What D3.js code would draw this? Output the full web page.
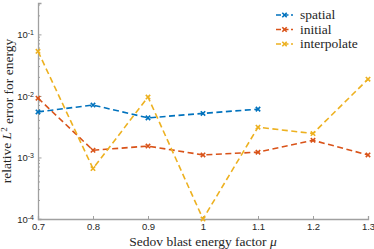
<!DOCTYPE html>
<html>
<head>
<meta charset="utf-8">
<script src="https://cdn.jsdelivr.net/npm/d3@7"></script>
<style>
  body { margin: 0; background: #fff; }
  svg { display: block; }
  .tick text { font-family: "Liberation Sans", Arial, sans-serif; font-size: 9.5px; fill: #262626; }
  .lab { font-family: "Liberation Serif", "DejaVu Serif", serif; font-size: 13.5px; fill: #262626; }
</style>
</head>
<body>
<div id="chart"></div>
<script>
var mu = [0.7, 0.8, 0.9, 1.0, 1.1, 1.2, 1.3];
var spatial = [5.5e-3, 7.1e-3, 4.4e-3, 5.2e-3, 6.1e-3];
var initial = [9.2e-3, 1.31e-3, 1.53e-3, 1.1e-3, 1.22e-3, 1.9e-3, 1.1e-3];
var interpolate = [5.3e-2, 6.6e-4, 9.6e-3, 1.0e-4, 3.1e-3, 2.45e-3, 1.87e-2];
var xTicks = [0.7, 0.8, 0.9, 1, 1.1, 1.2, 1.3];
var yTicks = [1e-4, 1e-3, 1e-2, 1e-1];

var series = [
  { name: "spatial", values: spatial, colour: "#0072BD" },
  { name: "initial", values: initial, colour: "#D95319" },
  { name: "interpolate", values: interpolate, colour: "#EDB120" }
];

var W = 374, H = 249,
  m = { top: 3, right: 6, bottom: 30, left: 38 },
  w = W - m.left - m.right,
  h = H - m.top - m.bottom;

var svg = d3.select("#chart").append("svg")
  .attr("width", W)
  .attr("height", H);

var g = svg.append("g")
  .attr("transform", "translate(" + m.left + "," + m.top + ")");

var x = d3.scaleLinear().domain([0.7, 1.3]).range([0, w]);
var y = d3.scaleLog().domain([1e-4, Math.pow(10, -0.49)]).range([h, 0]);

// minor log ticks
var minor = [];
for (var e = -4; e <= -1; e++) {
  for (var k = 2; k <= 9; k++) {
    var v = k * Math.pow(10, e);
    if (v <= y.domain()[1]) minor.push(v);
  }
}

var axisCol = "#a0a0a0";

g.append("g")
  .attr("transform", "translate(0," + h + ")")
  .call(d3.axisBottom(x).tickValues(xTicks).tickSize(-3).tickPadding(4)
    .tickFormat(function(d) { return d3.format("")(+d.toFixed(1)); }))
  .call(function(s) {
    s.select(".domain").attr("stroke", axisCol).attr("stroke-width", 1.3);
    s.selectAll(".tick line").attr("stroke", axisCol);
  });

var yAxis = g.append("g")
  .call(d3.axisLeft(y).tickValues(yTicks).tickSize(-3.5).tickPadding(5).tickFormat(""))
  .call(function(s) {
    s.select(".domain").attr("stroke", axisCol).attr("stroke-width", 1.3);
    s.selectAll(".tick line").attr("stroke", axisCol);
  });

yAxis.selectAll(".tick").append("text")
  .attr("x", -4)
  .attr("dy", "0.35em")
  .attr("text-anchor", "end")
  .each(function(d) {
    var t = d3.select(this);
    t.append("tspan").text("10");
    t.append("tspan").attr("dy", "-0.45em").style("font-size", "7px")
      .text(String(Math.round(Math.log10(d))));
  });

g.append("g").selectAll("line")
  .data(minor)
  .enter().append("line")
  .attr("x1", 0).attr("x2", 2)
  .attr("y1", function(d) { return y(d); })
  .attr("y2", function(d) { return y(d); })
  .attr("stroke", axisCol);

var line = d3.line()
  .x(function(d, i) { return x(mu[i]); })
  .y(function(d) { return y(d); });

function cross(sel, col, size) {
  sel.each(function(d, i) {
    var cx = x(mu[i]), cy = y(d), s = size;
    d3.select(this).append("path")
      .attr("d", "M" + (cx - s) + "," + (cy - s) + "L" + (cx + s) + "," + (cy + s) +
        "M" + (cx - s) + "," + (cy + s) + "L" + (cx + s) + "," + (cy - s))
      .attr("stroke", col)
      .attr("stroke-width", 1.6)
      .attr("fill", "none");
  });
}

series.forEach(function(s) {
  var sg = g.append("g");
  sg.append("path")
    .datum(s.values)
    .attr("d", line)
    .attr("fill", "none")
    .attr("stroke", s.colour)
    .attr("stroke-width", 1.6)
    .attr("stroke-dasharray", "6,3.5");
  sg.selectAll("g.pt")
    .data(s.values)
    .enter().append("g")
    .attr("class", "pt")
    .call(cross, s.colour, 2.2);
});

// legend
var leg = svg.append("g").attr("transform", "translate(276,15)");
series.forEach(function(s, i) {
  var row = leg.append("g").attr("transform", "translate(0," + (i * 14.5) + ")");
  row.append("line").attr("x1", 0).attr("x2", 17).attr("y1", 0).attr("y2", 0)
    .attr("stroke", s.colour).attr("stroke-width", 1.6).attr("stroke-dasharray", "5,2.5");
  row.append("path")
    .attr("d", "M6.3,-2.2L10.7,2.2M6.3,2.2L10.7,-2.2")
    .attr("stroke", s.colour).attr("stroke-width", 1.6);
  row.append("text").attr("class", "lab").attr("x", 24).attr("y", 4).text(s.name);
});

// axis labels
svg.append("text").attr("class", "lab")
  .attr("x", m.left + w / 2).attr("y", 246)
  .attr("text-anchor", "middle")
  .html('Sedov blast energy factor <tspan font-style="italic">\u03bc</tspan>');

svg.append("text").attr("class", "lab")
  .attr("transform", "translate(11," + (m.top + h / 2) + ") rotate(-90)")
  .attr("text-anchor", "middle")
  .html('relative <tspan font-style="italic">L</tspan><tspan dy="-0.45em" font-size="9px">2</tspan><tspan dy="0.45em"> error for energy</tspan>');
</script>
</body>
</html>
